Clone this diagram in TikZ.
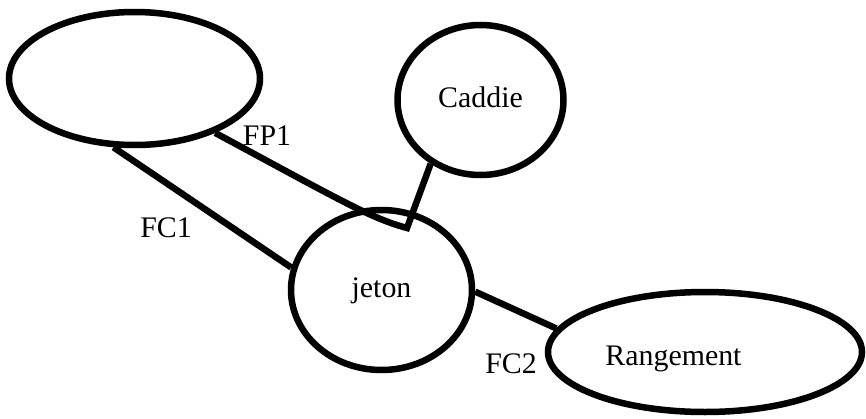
\documentclass[tikz,border=0pt]{standalone}
\usepackage{fontspec}
\setmainfont{Liberation Serif}
\usetikzlibrary{shapes.geometric}
\tikzset{
  ent/.style={draw, ellipse, line width=0.13cm, inner sep=0pt, text height=0.8em, text depth=0pt},
  lnk/.style={line width=0.13cm},
  lbl/.style={anchor=base, inner sep=0pt}
}
\begin{document}
\begin{tikzpicture}[x=0.02cm, y=-0.02cm, font=\fontsize{17}{20}\selectfont]
    \useasboundingbox (0,0) rectangle (866,419);

    \node [ent, minimum width=251*0.02cm, minimum height=133*0.02cm] (anon) at (134.5,78.5) {};
    \node [ent, minimum width=166*0.02cm, minimum height=150*0.02cm] (caddie) at (480.5,100) {Caddie};
    \node [ent, minimum width=181*0.02cm, minimum height=160*0.02cm] (jeton) at (381.5,290) {jeton};
    \node [ent, minimum width=314*0.02cm, minimum height=120*0.02cm] (rang) at (705,352) {};
    \node [lbl] (rangtxt) at (673.5,365) {Rangement};

    \coordinate (bend) at (407,228);

    \draw [lnk] (anon.253) -- (jeton.166);
    \draw [lnk] (anon.326) .. controls (340,200) and (370,218) .. (bend) -- (caddie.232);
    \draw [lnk] (jeton.359) -- (rang.171);

    \node [lbl] (fp1) at (267,145) {FP1};
    \node [lbl] (fc1) at (166,237) {FC1};
    \node [lbl] (fc2) at (511,373) {FC2};
\end{tikzpicture}
\end{document}
